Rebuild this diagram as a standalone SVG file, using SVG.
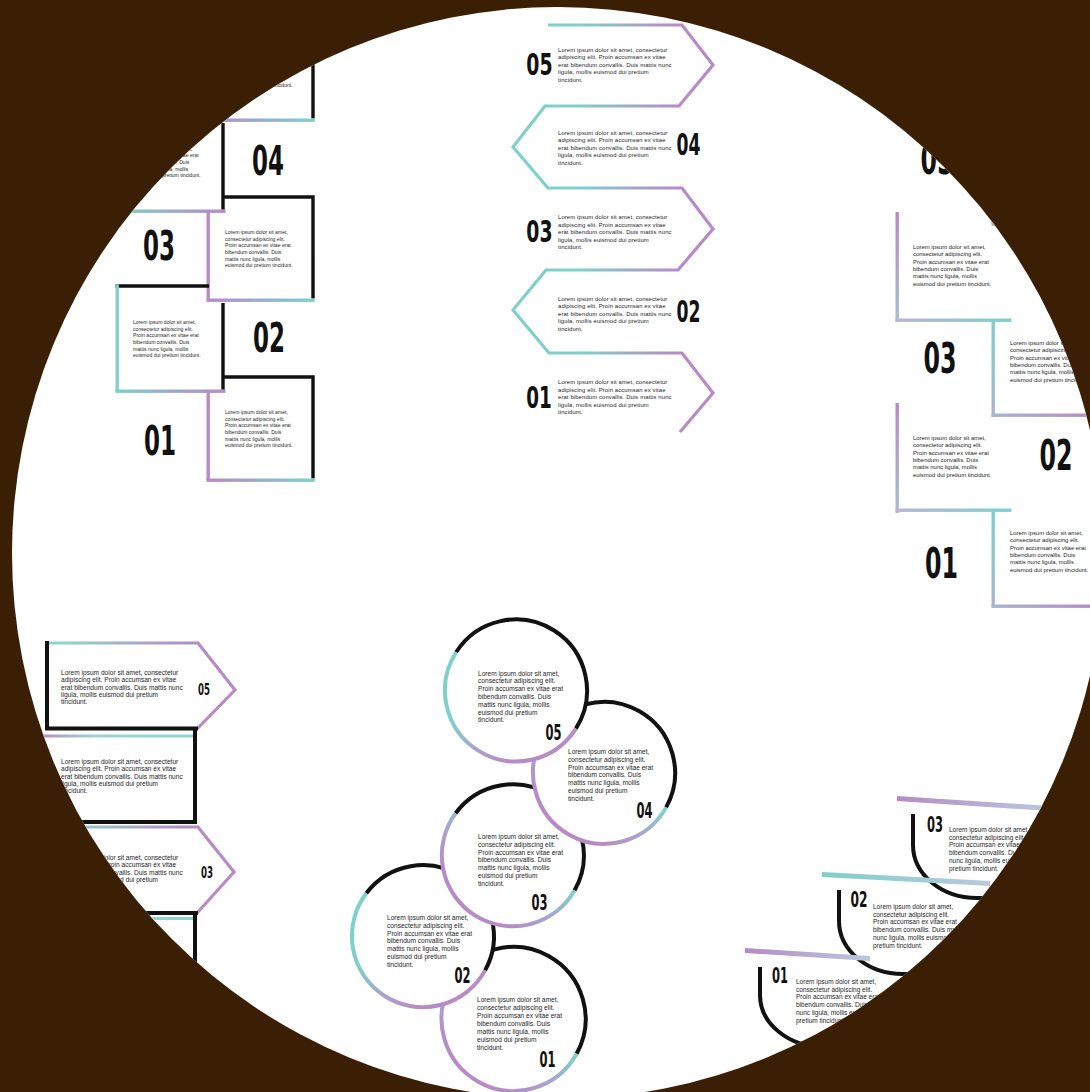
<svg xmlns="http://www.w3.org/2000/svg" width="1090" height="1092" viewBox="0 0 1090 1092">
<defs>
<style>
.t{font-family:"Liberation Sans",Arial,sans-serif;fill:#1e1e1e}
.ct{font-size:5.9px;letter-spacing:0.12px}
.n{font-family:"Liberation Sans Narrow","DejaVu Sans Condensed","Liberation Sans",sans-serif;font-weight:700;fill:#111;text-anchor:middle}
.bk{stroke:#111;fill:none;stroke-width:3.4}
.bk4{stroke:#111;fill:none;stroke-width:4}
.cf{fill:#fff;stroke:none}
</style>
<clipPath id="clip"><circle cx="558" cy="553" r="546"/></clipPath>
<linearGradient id="gTP" x1="0" y1="0" x2="1" y2="0"><stop offset="0" stop-color="#7fd0cb"/><stop offset="1" stop-color="#b68bc6"/></linearGradient>
<linearGradient id="gPT" x1="0" y1="0" x2="1" y2="0"><stop offset="0" stop-color="#b68bc6"/><stop offset="1" stop-color="#7fd0cb"/></linearGradient>
<linearGradient id="gBox" x1="0" y1="0" x2="1" y2="0"><stop offset="0" stop-color="#b68bc6"/><stop offset="0.35" stop-color="#9fd4d2"/><stop offset="1" stop-color="#8fd3cf"/></linearGradient>
<linearGradient id="gVP" x1="0" y1="0" x2="0" y2="1"><stop offset="0" stop-color="#b68bc6"/><stop offset="1" stop-color="#a9bdd0"/></linearGradient>
<linearGradient id="gVT" x1="0" y1="0" x2="0" y2="1"><stop offset="0" stop-color="#7fd0cb"/><stop offset="1" stop-color="#a9b5cc"/></linearGradient>
<linearGradient id="gLT" x1="0" y1="0" x2="1" y2="0"><stop offset="0" stop-color="#b7b4d4"/><stop offset="1" stop-color="#7fd0cb"/></linearGradient>
<linearGradient id="gGP" x1="0" y1="0" x2="1" y2="0"><stop offset="0" stop-color="#a9b5cc"/><stop offset="1" stop-color="#b68bc6"/></linearGradient>
<linearGradient id="gChev" gradientUnits="userSpaceOnUse" x1="520" y1="0" x2="715" y2="0"><stop offset="0.3" stop-color="#7fd0cb"/><stop offset="0.8" stop-color="#b68bc6"/></linearGradient>
<linearGradient id="gChev2" gradientUnits="userSpaceOnUse" x1="45" y1="0" x2="235" y2="0"><stop offset="0.1" stop-color="#8fd3cf"/><stop offset="0.75" stop-color="#b68bc6"/></linearGradient>
<linearGradient id="cA" x1="0" y1="0" x2="1" y2="1"><stop offset="0.35" stop-color="#7fd0cb"/><stop offset="0.55" stop-color="#a7a6cc"/><stop offset="0.75" stop-color="#b68bc6"/></linearGradient>
<linearGradient id="cB" x1="1" y1="0" x2="0" y2="1"><stop offset="0.35" stop-color="#7fd0cb"/><stop offset="0.55" stop-color="#a7a6cc"/><stop offset="0.75" stop-color="#b68bc6"/></linearGradient>
<linearGradient id="sP" x1="0" y1="0" x2="1" y2="0"><stop offset="0" stop-color="#b68bc6"/><stop offset="1" stop-color="#b9c9dd"/></linearGradient>
<linearGradient id="sT" x1="0" y1="0" x2="1" y2="0"><stop offset="0" stop-color="#7fd0cb"/><stop offset="1" stop-color="#b9c9dd"/></linearGradient>
</defs>
<rect width="1090" height="1092" fill="#3a1f04"/>
<circle cx="558" cy="553" r="546" fill="#fff"/>
<g clip-path="url(#clip)">

<g id="stair-r05">
<path class="bk" d="M222,17 H313 V118.5"/>
<rect x="206.5" y="118.5" width="108.3" height="3.4" fill="url(#gPT)"/>
<text class="t" font-size="5.1" x="225" y="54"><tspan x="225">Lorem ipsum dolor sit amet,</tspan><tspan x="225" dy="6.67">consectetur adipiscing elit.</tspan><tspan x="225" dy="6.67">Proin accumsan ex vitae erat</tspan><tspan x="225" dy="6.67">bibendum convallis. Duis</tspan><tspan x="225" dy="6.67">mattis nunc ligula, mollis</tspan><tspan x="225" dy="6.67">euismod dui pretium tincidunt.</tspan></text>
</g>
<g id="stair-l04">
<line class="bk" x1="115.5" y1="106" x2="209" y2="106"/>
<rect x="115.5" y="104.3" width="3.4" height="108" fill="#7fd0cb"/>
<rect x="115.5" y="209.5" width="110" height="3.4" fill="url(#gTP)"/>
<line class="bk" x1="223" y1="123" x2="223" y2="209.5"/>
<text class="t" font-size="5.1" x="133" y="144"><tspan x="133">Lorem ipsum dolor sit amet,</tspan><tspan x="133" dy="6.67">consectetur adipiscing elit.</tspan><tspan x="133" dy="6.67">Proin accumsan ex vitae erat</tspan><tspan x="133" dy="6.67">bibendum convallis. Duis</tspan><tspan x="133" dy="6.67">mattis nunc ligula, mollis</tspan><tspan x="133" dy="6.67">euismod dui pretium tincidunt.</tspan></text>
<text class="n" x="268" y="175" font-size="41" textLength="32" lengthAdjust="spacingAndGlyphs">04</text>
</g>
<g id="stair-r03">
<path class="bk" d="M222,197 H313 V298.5"/>
<rect x="206.5" y="298.5" width="108.3" height="3.4" fill="url(#gPT)"/>
<rect x="206.5" y="211" width="3.4" height="89" fill="#b68bc6"/>
<text class="t" font-size="5.1" x="225" y="234"><tspan x="225">Lorem ipsum dolor sit amet,</tspan><tspan x="225" dy="6.67">consectetur adipiscing elit.</tspan><tspan x="225" dy="6.67">Proin accumsan ex vitae erat</tspan><tspan x="225" dy="6.67">bibendum convallis. Duis</tspan><tspan x="225" dy="6.67">mattis nunc ligula, mollis</tspan><tspan x="225" dy="6.67">euismod dui pretium tincidunt.</tspan></text>
<text class="n" x="159" y="260" font-size="41" textLength="32" lengthAdjust="spacingAndGlyphs">03</text>
</g>
<g id="stair-l02">
<line class="bk" x1="115.5" y1="286" x2="209" y2="286"/>
<rect x="115.5" y="284.3" width="3.4" height="108" fill="#7fd0cb"/>
<rect x="115.5" y="389.5" width="110" height="3.4" fill="url(#gTP)"/>
<line class="bk" x1="223" y1="303" x2="223" y2="389.5"/>
<text class="t" font-size="5.1" x="133" y="324"><tspan x="133">Lorem ipsum dolor sit amet,</tspan><tspan x="133" dy="6.67">consectetur adipiscing elit.</tspan><tspan x="133" dy="6.67">Proin accumsan ex vitae erat</tspan><tspan x="133" dy="6.67">bibendum convallis. Duis</tspan><tspan x="133" dy="6.67">mattis nunc ligula, mollis</tspan><tspan x="133" dy="6.67">euismod dui pretium tincidunt.</tspan></text>
<text class="n" x="269" y="352" font-size="41" textLength="32" lengthAdjust="spacingAndGlyphs">02</text>
</g>
<g id="stair-r01">
<path class="bk" d="M222,377 H313 V478.5"/>
<rect x="206.5" y="478.5" width="108.3" height="3.4" fill="url(#gPT)"/>
<rect x="206.5" y="391" width="3.4" height="89" fill="#b68bc6"/>
<text class="t" font-size="5.1" x="225" y="414"><tspan x="225">Lorem ipsum dolor sit amet,</tspan><tspan x="225" dy="6.67">consectetur adipiscing elit.</tspan><tspan x="225" dy="6.67">Proin accumsan ex vitae erat</tspan><tspan x="225" dy="6.67">bibendum convallis. Duis</tspan><tspan x="225" dy="6.67">mattis nunc ligula, mollis</tspan><tspan x="225" dy="6.67">euismod dui pretium tincidunt.</tspan></text>
<text class="n" x="160" y="455" font-size="41" textLength="32" lengthAdjust="spacingAndGlyphs">01</text>
</g>

<g id="connectors">
<path d="M548,25 H682 L713,65 L679,106 H545 L513,147 L548,188 H682 L713,229 L678,270 H546 L513,310 L549,353 H682 L713,393 L680,432" fill="none" stroke="url(#gChev)" stroke-width="3.2" stroke-linejoin="miter"/>
</g>
<g id="chev-05">
<text class="n" transform="translate(539.5,75) scale(0.7,1)" x="0" y="0" font-size="30">05</text>
<text class="t ct" x="558" y="51.5"><tspan x="558">Lorem ipsum dolor sit amet, consectetur</tspan><tspan x="558" dy="7.6">adipiscing elit. Proin accumsan ex vitae</tspan><tspan x="558" dy="7.6">erat bibendum convallis. Duis mattis nunc</tspan><tspan x="558" dy="7.6">ligula, mollis euismod dui pretium</tspan><tspan x="558" dy="7.6">tincidunt.</tspan></text>
</g>
<g id="chev-04">
<text class="n" x="688.5" y="155" font-size="30" textLength="24" lengthAdjust="spacingAndGlyphs">04</text>
<text class="t ct" x="558" y="134.5"><tspan x="558">Lorem ipsum dolor sit amet, consectetur</tspan><tspan x="558" dy="7.6">adipiscing elit. Proin accumsan ex vitae</tspan><tspan x="558" dy="7.6">erat bibendum convallis. Duis mattis nunc</tspan><tspan x="558" dy="7.6">ligula, mollis euismod dui pretium</tspan><tspan x="558" dy="7.6">tincidunt.</tspan></text>
</g>
<g id="chev-03">
<text class="n" transform="translate(539.5,242) scale(0.7,1)" x="0" y="0" font-size="30">03</text>
<text class="t ct" x="558" y="219"><tspan x="558">Lorem ipsum dolor sit amet, consectetur</tspan><tspan x="558" dy="7.6">adipiscing elit. Proin accumsan ex vitae</tspan><tspan x="558" dy="7.6">erat bibendum convallis. Duis mattis nunc</tspan><tspan x="558" dy="7.6">ligula, mollis euismod dui pretium</tspan><tspan x="558" dy="7.6">tincidunt.</tspan></text>
</g>
<g id="chev-02">
<text class="n" x="688.5" y="322" font-size="30" textLength="24" lengthAdjust="spacingAndGlyphs">02</text>
<text class="t ct" x="558" y="300.5"><tspan x="558">Lorem ipsum dolor sit amet, consectetur</tspan><tspan x="558" dy="7.6">adipiscing elit. Proin accumsan ex vitae</tspan><tspan x="558" dy="7.6">erat bibendum convallis. Duis mattis nunc</tspan><tspan x="558" dy="7.6">ligula, mollis euismod dui pretium</tspan><tspan x="558" dy="7.6">tincidunt.</tspan></text>
</g>
<g id="chev-01">
<text class="n" transform="translate(539,408) scale(0.68,1)" x="0" y="0" font-size="30">01</text>
<text class="t ct" x="558" y="384"><tspan x="558">Lorem ipsum dolor sit amet, consectetur</tspan><tspan x="558" dy="7.6">adipiscing elit. Proin accumsan ex vitae</tspan><tspan x="558" dy="7.6">erat bibendum convallis. Duis mattis nunc</tspan><tspan x="558" dy="7.6">ligula, mollis euismod dui pretium</tspan><tspan x="558" dy="7.6">tincidunt.</tspan></text>
</g>

<g id="step-05">
<rect x="991.5" y="129" width="3.4" height="95" fill="url(#gVT)"/>
<rect x="991.5" y="222.5" width="110" height="3.4" fill="url(#gGP)"/>
<text class="n" x="937" y="174" font-size="42" textLength="33" lengthAdjust="spacingAndGlyphs">05</text>
</g>
<g id="step-03">
<rect x="895.5" y="212" width="3.4" height="110" fill="url(#gVP)"/>
<rect x="895.5" y="318.5" width="116" height="3.4" fill="url(#gLT)"/>
<rect x="991.5" y="320" width="3.4" height="97" fill="url(#gVT)"/>
<rect x="991.5" y="413.5" width="110" height="3.4" fill="url(#gGP)"/>
<text class="t" font-size="5.9" x="913" y="249"><tspan x="913">Lorem ipsum dolor sit amet,</tspan><tspan x="913" dy="7.3">consectetur adipiscing elit.</tspan><tspan x="913" dy="7.3">Proin accumsan ex vitae erat</tspan><tspan x="913" dy="7.3">bibendum convallis. Duis</tspan><tspan x="913" dy="7.3">mattis nunc ligula, mollis</tspan><tspan x="913" dy="7.3">euismod dui pretium tincidunt.</tspan></text>
<text class="n" x="940" y="373" font-size="42" textLength="33" lengthAdjust="spacingAndGlyphs">03</text>
<text class="t" font-size="5.9" x="1010" y="345"><tspan x="1010">Lorem ipsum dolor sit amet,</tspan><tspan x="1010" dy="7.3">consectetur adipiscing elit.</tspan><tspan x="1010" dy="7.3">Proin accumsan ex vitae erat</tspan><tspan x="1010" dy="7.3">bibendum convallis. Duis</tspan><tspan x="1010" dy="7.3">mattis nunc ligula, mollis</tspan><tspan x="1010" dy="7.3">euismod dui pretium tincidunt.</tspan></text>
</g>
<g id="step-02">
<rect x="895.5" y="403" width="3.4" height="110" fill="url(#gVP)"/>
<rect x="895.5" y="508.5" width="116" height="3.4" fill="url(#gLT)"/>
<rect x="991.5" y="510" width="3.4" height="97" fill="url(#gVT)"/>
<rect x="991.5" y="604.5" width="110" height="3.4" fill="url(#gGP)"/>
<text class="t" font-size="5.9" x="913" y="440"><tspan x="913">Lorem ipsum dolor sit amet,</tspan><tspan x="913" dy="7.3">consectetur adipiscing elit.</tspan><tspan x="913" dy="7.3">Proin accumsan ex vitae erat</tspan><tspan x="913" dy="7.3">bibendum convallis. Duis</tspan><tspan x="913" dy="7.3">mattis nunc ligula, mollis</tspan><tspan x="913" dy="7.3">euismod dui pretium tincidunt.</tspan></text>
<text class="n" x="1056" y="470" font-size="42" textLength="33" lengthAdjust="spacingAndGlyphs">02</text>
</g>
<g id="step-01">
<text class="n" x="941.5" y="578" font-size="42" textLength="33" lengthAdjust="spacingAndGlyphs">01</text>
<text class="t" font-size="5.9" x="1010" y="535"><tspan x="1010">Lorem ipsum dolor sit amet,</tspan><tspan x="1010" dy="7.3">consectetur adipiscing elit.</tspan><tspan x="1010" dy="7.3">Proin accumsan ex vitae erat</tspan><tspan x="1010" dy="7.3">bibendum convallis. Duis</tspan><tspan x="1010" dy="7.3">mattis nunc ligula, mollis</tspan><tspan x="1010" dy="7.3">euismod dui pretium tincidunt.</tspan></text>
</g>

<g id="box-05">
<path d="M45,643 H198 L235,690 L197,729" fill="none" stroke="url(#gChev2)" stroke-width="3.2"/>
<line class="bk4" x1="47" y1="641" x2="47" y2="730"/>
<line class="bk4" x1="45" y1="728.5" x2="198" y2="728.5"/>
<text class="t" font-size="6.6" x="61" y="675"><tspan x="61">Lorem ipsum dolor sit amet, consectetur</tspan><tspan x="61" dy="7.3">adipiscing elit. Proin accumsan ex vitae</tspan><tspan x="61" dy="7.3">erat bibendum convallis. Duis mattis nunc</tspan><tspan x="61" dy="7.3">ligula, mollis euismod dui pretium</tspan><tspan x="61" dy="7.3">tincidunt.</tspan></text>
<text class="n" x="204" y="695" font-size="16" textLength="12" lengthAdjust="spacingAndGlyphs">05</text>
</g>
<g id="box-04">
<rect x="40" y="734.5" width="154" height="3" fill="url(#gBox)"/>
<path class="bk4" d="M40,822 H195 V730"/>
<text class="t" font-size="6.6" x="61" y="764"><tspan x="61">Lorem ipsum dolor sit amet, consectetur</tspan><tspan x="61" dy="7.3">adipiscing elit. Proin accumsan ex vitae</tspan><tspan x="61" dy="7.3">erat bibendum convallis. Duis mattis nunc</tspan><tspan x="61" dy="7.3">ligula, mollis euismod dui pretium</tspan><tspan x="61" dy="7.3">tincidunt.</tspan></text>
</g>
<g id="box-03">
<path d="M45,827 H198 L234,872 L197,913" fill="none" stroke="url(#gChev2)" stroke-width="3.2"/>
<line class="bk4" x1="47" y1="825" x2="47" y2="914"/>
<line class="bk4" x1="45" y1="913" x2="198" y2="913"/>
<text class="t" font-size="6.6" x="61" y="860"><tspan x="61">Lorem ipsum dolor sit amet, consectetur</tspan><tspan x="61" dy="7.3">adipiscing elit. Proin accumsan ex vitae</tspan><tspan x="61" dy="7.3">erat bibendum convallis. Duis mattis nunc</tspan><tspan x="61" dy="7.3">ligula, mollis euismod dui pretium</tspan><tspan x="61" dy="7.3">tincidunt.</tspan></text>
<text class="n" x="207" y="878" font-size="16" textLength="12" lengthAdjust="spacingAndGlyphs">03</text>
</g>
<g id="box-02">
<rect x="40" y="917" width="154" height="3" fill="url(#gBox)"/>
<path class="bk4" d="M40,1006 H195 V914"/>
<text class="t" font-size="6.6" x="61" y="948"><tspan x="61">Lorem ipsum dolor sit amet, consectetur</tspan><tspan x="61" dy="7.3">adipiscing elit. Proin accumsan ex vitae</tspan><tspan x="61" dy="7.3">erat bibendum convallis. Duis mattis nunc</tspan><tspan x="61" dy="7.3">ligula, mollis euismod dui pretium</tspan><tspan x="61" dy="7.3">tincidunt.</tspan></text>
</g>

<g id="circle-01">
<circle class="cf" cx="513" cy="1020" r="72"/>
<path d="M450.6,984 A72,72 0 0 1 576.6,1053.8" class="bk4"/>
<path d="M576.6,1053.8 A72,72 0 1 1 450.6,984" fill="none" stroke="url(#cB)" stroke-width="4"/>
<text class="t" font-size="6.6" x="477" y="1002"><tspan x="477">Lorem ipsum dolor sit amet,</tspan><tspan x="477" dy="8">consectetur adipiscing elit.</tspan><tspan x="477" dy="8">Proin accumsan ex vitae erat</tspan><tspan x="477" dy="8">bibendum convallis. Duis</tspan><tspan x="477" dy="8">mattis nunc ligula, mollis</tspan><tspan x="477" dy="8">euismod dui pretium</tspan><tspan x="477" dy="8">tincidunt.</tspan></text>
<text class="n" x="547.5" y="1067" font-size="21" textLength="16" lengthAdjust="spacingAndGlyphs">01</text>
</g>
<g id="circle-02">
<circle class="cf" cx="423" cy="936" r="71"/>
<path d="M366.3,893.3 A71,71 0 0 1 485.1,970.4" class="bk4"/>
<path d="M485.1,970.4 A71,71 0 1 1 366.3,893.3" fill="none" stroke="url(#cA)" stroke-width="4"/>
<text class="t" font-size="6.6" x="387" y="920"><tspan x="387">Lorem ipsum dolor sit amet,</tspan><tspan x="387" dy="7.8">consectetur adipiscing elit.</tspan><tspan x="387" dy="7.8">Proin accumsan ex vitae erat</tspan><tspan x="387" dy="7.8">bibendum convallis. Duis</tspan><tspan x="387" dy="7.8">mattis nunc ligula, mollis</tspan><tspan x="387" dy="7.8">euismod dui pretium</tspan><tspan x="387" dy="7.8">tincidunt.</tspan></text>
<text class="n" x="462.5" y="983" font-size="21" textLength="16" lengthAdjust="spacingAndGlyphs">02</text>
</g>
<g id="circle-03">
<circle class="cf" cx="513" cy="855" r="71"/>
<path d="M455.6,813.3 A71,71 0 0 1 574.5,890.5" class="bk4"/>
<path d="M574.5,890.5 A71,71 0 1 1 455.6,813.3" fill="none" stroke="url(#cB)" stroke-width="4"/>
<text class="t" font-size="6.6" x="478" y="839"><tspan x="478">Lorem ipsum dolor sit amet,</tspan><tspan x="478" dy="7.8">consectetur adipiscing elit.</tspan><tspan x="478" dy="7.8">Proin accumsan ex vitae erat</tspan><tspan x="478" dy="7.8">bibendum convallis. Duis</tspan><tspan x="478" dy="7.8">mattis nunc ligula, mollis</tspan><tspan x="478" dy="7.8">euismod dui pretium</tspan><tspan x="478" dy="7.8">tincidunt.</tspan></text>
<text class="n" x="539.5" y="910" font-size="21" textLength="16" lengthAdjust="spacingAndGlyphs">03</text>
</g>
<g id="circle-04">
<circle class="cf" cx="604" cy="773" r="71"/>
<path d="M542.5,737.5 A71,71 0 0 1 666.1,807.4" class="bk4"/>
<path d="M666.1,807.4 A71,71 0 1 1 542.5,737.5" fill="none" stroke="url(#cB)" stroke-width="4"/>
<text class="t" font-size="6.6" x="568" y="754"><tspan x="568">Lorem ipsum dolor sit amet,</tspan><tspan x="568" dy="7.8">consectetur adipiscing elit.</tspan><tspan x="568" dy="7.8">Proin accumsan ex vitae erat</tspan><tspan x="568" dy="7.8">bibendum convallis. Duis</tspan><tspan x="568" dy="7.8">mattis nunc ligula, mollis</tspan><tspan x="568" dy="7.8">euismod dui pretium</tspan><tspan x="568" dy="7.8">tincidunt.</tspan></text>
<text class="n" x="644.5" y="818" font-size="21" textLength="16" lengthAdjust="spacingAndGlyphs">04</text>
</g>
<g id="circle-05">
<circle class="cf" cx="515" cy="692" r="71"/>
<path d="M456.1,652.3 A71,71 0 0 1 575.9,728.6" class="bk4"/>
<path d="M575.9,728.6 A71,71 0 1 1 456.1,652.3" fill="none" stroke="url(#cA)" stroke-width="4"/>
<text class="t" font-size="6.6" x="478" y="675.5"><tspan x="478">Lorem ipsum dolor sit amet,</tspan><tspan x="478" dy="7.8">consectetur adipiscing elit.</tspan><tspan x="478" dy="7.8">Proin accumsan ex vitae erat</tspan><tspan x="478" dy="7.8">bibendum convallis. Duis</tspan><tspan x="478" dy="7.8">mattis nunc ligula, mollis</tspan><tspan x="478" dy="7.8">euismod dui pretium</tspan><tspan x="478" dy="7.8">tincidunt.</tspan></text>
<text class="n" x="553.5" y="740" font-size="21" textLength="16" lengthAdjust="spacingAndGlyphs">05</text>
</g>

<g id="arc-03">
<polygon points="897,796 1050,806 1050,811 897,801" fill="url(#sP)"/>
<path class="bk4" d="M913,814 V845 A64,53 0 0 0 977,898 H1010"/>
<text class="n" x="935" y="832" font-size="21" textLength="16" lengthAdjust="spacingAndGlyphs">03</text>
<text class="t" font-size="6.5" x="949" y="832"><tspan x="949">Lorem ipsum dolor sit amet,</tspan><tspan x="949" dy="7.7">consectetur adipiscing elit.</tspan><tspan x="949" dy="7.7">Proin accumsan ex vitae erat</tspan><tspan x="949" dy="7.7">bibendum convallis. Duis mattis</tspan><tspan x="949" dy="7.7">nunc ligula, mollis euismod dui</tspan><tspan x="949" dy="7.7">pretium tincidunt.</tspan></text>
</g>
<g id="arc-02">
<polygon points="822,872 990,881 990,886 822,877" fill="url(#sT)"/>
<path class="bk4" d="M839,890 V921 A64,53 0 0 0 903,974 H940"/>
<text class="n" x="859" y="907" font-size="21" textLength="17" lengthAdjust="spacingAndGlyphs">02</text>
<text class="t" font-size="6.5" x="873" y="909"><tspan x="873">Lorem ipsum dolor sit amet,</tspan><tspan x="873" dy="7.7">consectetur adipiscing elit.</tspan><tspan x="873" dy="7.7">Proin accumsan ex vitae erat</tspan><tspan x="873" dy="7.7">bibendum convallis. Duis mattis</tspan><tspan x="873" dy="7.7">nunc ligula, mollis euismod dui</tspan><tspan x="873" dy="7.7">pretium tincidunt.</tspan></text>
</g>
<g id="arc-01">
<polygon points="745,948 870,956 870,961 745,953" fill="url(#sP)"/>
<path class="bk4" d="M760,967 V995 A64,52 0 0 0 824,1047 H860"/>
<text class="n" x="780" y="983" font-size="21" textLength="16" lengthAdjust="spacingAndGlyphs">01</text>
<text class="t" font-size="6.5" x="796" y="984"><tspan x="796">Lorem ipsum dolor sit amet,</tspan><tspan x="796" dy="7.7">consectetur adipiscing elit.</tspan><tspan x="796" dy="7.7">Proin accumsan ex vitae erat</tspan><tspan x="796" dy="7.7">bibendum convallis. Duis mattis</tspan><tspan x="796" dy="7.7">nunc ligula, mollis euismod dui</tspan><tspan x="796" dy="7.7">pretium tincidunt.</tspan></text>
</g>
</g>
</svg>
